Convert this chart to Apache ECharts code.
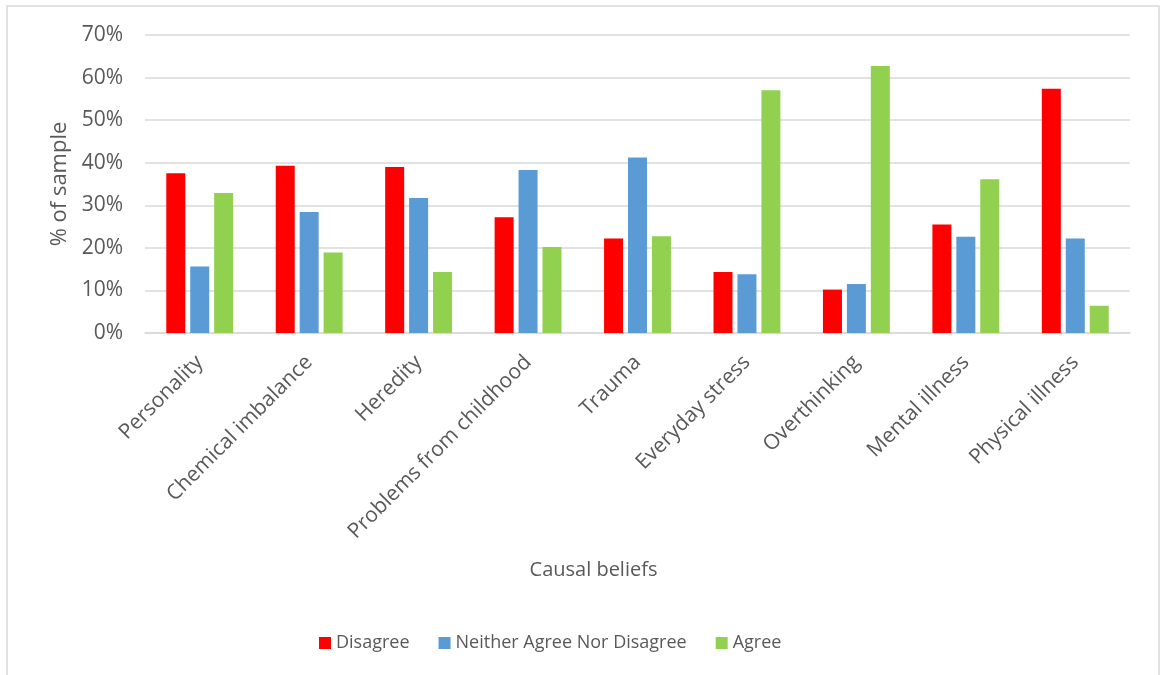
<!DOCTYPE html>
<html><head><meta charset="utf-8">
<script src="https://cdn.jsdelivr.net/npm/echarts@6/dist/echarts.min.js"></script>
<style>html,body{margin:0;padding:0;background:#fff}#c{width:1161px;height:675px}</style>
</head><body><div id="c"></div>
<script>
const categories = ["Personality","Chemical imbalance","Heredity","Problems from childhood","Trauma","Everyday stress","Overthinking","Mental illness","Physical illness"];
const disagree = [37.5, 39.3, 39.0, 27.2, 22.2, 14.3, 10.2, 25.5, 57.4];
const neither  = [15.6, 28.4, 31.7, 38.3, 41.2, 13.8, 11.5, 22.6, 22.2];
const agree    = [32.9, 18.9, 14.3, 20.2, 22.7, 57.0, 62.7, 36.1, 6.4];
const seriesNames = ["Disagree","Neither Agree Nor Disagree","Agree"];
const yTicks = [0,10,20,30,40,50,60,70];

const FONT = "Open Sans";
const TXT = "#595959";
const chart = echarts.init(document.getElementById('c'), null, {renderer:'canvas'});
const mk = (name, data, color) => ({
  name, type:'bar', data, barWidth:19, barGap:'26%',
  itemStyle:{color}
});
chart.setOption({
  animation:false,
  textStyle:{fontFamily:FONT},
  graphic:[{type:'rect', shape:{x:7,y:6,width:1152,height:700}, style:{fill:'none',stroke:'#D9D9D9',lineWidth:1.5}, silent:true}],
  grid:{left:145,right:31,top:35,bottom:342,containLabel:false},
  legend:{
    top:629, left:314, itemWidth:12, itemHeight:12, itemGap:29,
    icon:'rect',
    textStyle:{fontSize:18,color:TXT,fontFamily:FONT},
    data:seriesNames
  },
  xAxis:{
    type:'category', data:categories,
    name:'Causal beliefs', nameLocation:'middle', nameGap:227,
    nameTextStyle:{fontSize:20,color:TXT,fontFamily:FONT,padding:[0,88,0,0]},
    axisLine:{lineStyle:{color:'#D9D9D9',width:1.5}},
    axisTick:{show:false},
    axisLabel:{rotate:45,fontSize:21,color:TXT,fontFamily:FONT,margin:26,interval:0}
  },
  yAxis:{
    type:'value', min:yTicks[0], max:yTicks[yTicks.length-1], interval:10,
    name:'% of sample', nameLocation:'middle', nameGap:74, nameRotate:90,
    nameTextStyle:{fontSize:22,color:TXT,fontFamily:FONT},
    axisLine:{show:false}, axisTick:{show:false},
    axisLabel:{formatter:v=>v+'%',fontSize:21,color:TXT,fontFamily:FONT,margin:22},
    splitLine:{lineStyle:{color:'#D9D9D9',width:1.5}}
  },
  series:[mk(seriesNames[0],disagree,'#FF0000'),mk(seriesNames[1],neither,'#5B9BD5'),mk(seriesNames[2],agree,'#92D050')]
});
</script></body></html>
